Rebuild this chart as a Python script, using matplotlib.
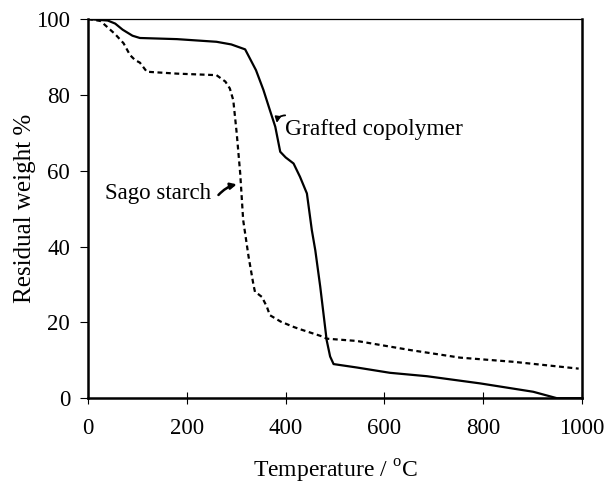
import matplotlib
matplotlib.use("Agg")
import matplotlib.pyplot as plt

plt.rcParams['font.family'] = ['Liberation Serif', 'DejaVu Serif']
plt.rcParams['mathtext.fontset'] = 'custom'
plt.rcParams['mathtext.rm'] = 'Liberation Serif'

# Grafted copolymer (solid)
graft_T = [0, 40, 55, 70, 90, 105, 180, 260, 290, 318, 340, 355, 368, 379, 389, 400, 416, 429, 443,
           453, 460, 470, 483, 490, 497, 544, 611, 686, 794, 901, 949, 1000]
graft_W = [100, 99.6, 98.8, 97.2, 95.6, 95.0, 94.7, 94.0, 93.3, 92.0, 86.5, 81.3, 76, 71.6, 65, 63.5, 61.9, 58.4, 54,
           44.3, 39, 29.4, 15.3, 11, 9.0, 8.1, 6.7, 5.8, 3.9, 1.7, 0, 0]

# Sago starch (dashed)
sago_T = [0, 25, 38, 55, 72, 85, 95, 105, 119, 180, 260, 278, 287, 294, 301, 308, 314, 325, 335, 338, 345, 352,
          362, 368, 390, 416, 429, 476, 483, 544, 652, 753, 861, 993]
sago_W = [100, 99.5, 98, 96, 93.6, 90.5, 89.2, 88.5, 86.1, 85.6, 85.2, 83.5, 81.7, 78.6, 69.8, 59.3, 47, 37.3, 29.8, 28, 27.4, 26.7,
          24.1, 21.9, 20.2, 18.8, 18.2, 16.2, 15.7, 15.1, 12.7, 10.7, 9.6, 7.8]

x_ticks = [0, 200, 400, 600, 800, 1000]
y_ticks = [0, 20, 40, 60, 80, 100]

fig = plt.figure(figsize=(6.07, 4.88), dpi=100)
ax = fig.add_axes([0.145, 0.184, 0.814, 0.777])

ax.plot(graft_T, graft_W, color='black', lw=1.6, solid_joinstyle='round')
ax.plot(sago_T, sago_W, color='black', lw=1.6, linestyle=(0, (2.2, 1.6)))

ax.set_xlim(0, 1000)
ax.set_ylim(0, 100)
ax.set_xticks(x_ticks)
ax.set_yticks(y_ticks)
ax.tick_params(axis='x', direction='inout', length=8, width=0.8, labelsize=16.5, pad=10)
ax.tick_params(axis='y', direction='out', length=5.8, width=0.8, labelsize=16.5, pad=7)

for s in ['left', 'bottom', 'right']:
    ax.spines[s].set_linewidth(1.8)
ax.spines['top'].set_linewidth(0.9)

ax.set_xlabel('Temperature / $^{\\mathrm{o}}$C', fontsize=17, labelpad=14)
ax.set_ylabel('Residual weight %', fontsize=18, labelpad=0)

ax.text(399, 70.8, 'Grafted copolymer', fontsize=16.8, va='center', ha='left')
ax.annotate('', xy=(382, 72.6), xytext=(399, 74.6),
            arrowprops=dict(arrowstyle='-|>', color='black', lw=1.3, mutation_scale=8,
                            shrinkA=0, shrinkB=0, connectionstyle='arc3,rad=0.4'))
ax.text(34, 54.0, 'Sago starch', fontsize=16.5, va='center', ha='left')
ax.annotate('', xy=(301, 56.4), xytext=(264, 53.6),
            arrowprops=dict(arrowstyle='-|>', color='black', lw=1.8, mutation_scale=9,
                            shrinkA=0, shrinkB=0, connectionstyle='arc3,rad=-0.15'))

fig.savefig('out.png', dpi=100)
